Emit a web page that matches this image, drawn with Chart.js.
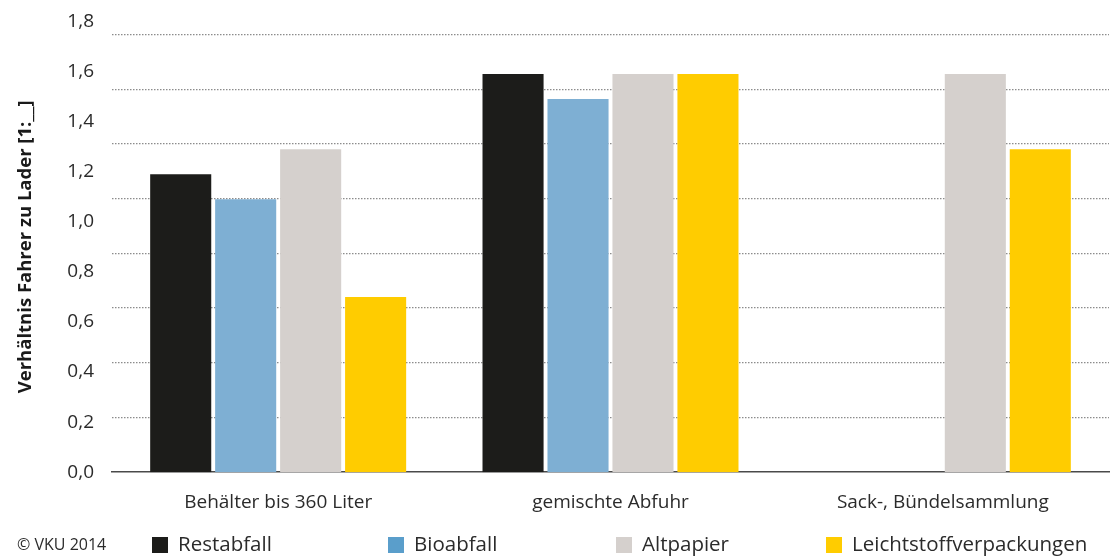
<!DOCTYPE html>
<html lang="de">
<head>
<meta charset="utf-8">
<title>Verhältnis Fahrer zu Lader</title>
<script src="https://cdn.jsdelivr.net/npm/chart.js@4/dist/chart.umd.min.js"></script>
<style>
  html, body { margin: 0; padding: 0; background: #ffffff; }
  #wrap { width: 1110px; height: 559px; }
</style>
</head>
<body>
<div id="wrap"><canvas id="c" width="1110" height="559"></canvas></div>
<script>
// Sammelsysteme (Kategorien)
const categories = ['Behälter bis 360 Liter', 'gemischte Abfuhr', 'Sack-, Bündelsammlung'];

// Verhältnis Fahrer zu Lader je Abfallart
const restabfall = [1.19, 1.59, null];
const bioabfall = [1.09, 1.49, null];
const altpapier = [1.29, 1.59, 1.59];
const leichtstoff = [0.70, 1.59, 1.29];

const seriesNames = ['Restabfall', 'Bioabfall', 'Altpapier', 'Leichtstoffverpackungen'];
const barColors = ['#1c1c1a', '#7eafd3', '#d5d0cd', '#ffcc00'];
const legendColors = ['#1c1c1a', '#5a9ecb', '#d5d0cd', '#ffcc00'];

// Achsenbeschriftung
const yTicks = [0, 0.2, 0.4, 0.6, 0.8, 1.0, 1.2, 1.4, 1.6, 1.8];
const gridTicks = [0.2, 0.4, 0.6, 0.8, 1.0, 1.2, 1.4, 1.6];
const yTitle = 'Verhältnis Fahrer zu Lader [1:__]';
const copyright = '© VKU 2014';

const FONT = '"Open Sans", "DejaVu Sans", sans-serif';
const TEXT = '#2b2b2b';

const fmt = v => v.toFixed(1).replace('.', ',');

// Legende unten mit festen Spalten und Copyright-Vermerk
const bottomLegend = {
  id: 'bottomLegend',
  afterDraw(chart) {
    const ctx = chart.ctx;
    const y = 545;
    ctx.save();
    ctx.textBaseline = 'middle';
    ctx.textAlign = 'left';
    ctx.fillStyle = TEXT;
    ctx.font = '16px ' + FONT;
    ctx.fillText(copyright, 17, y);
    const cols = [152, 388, 616, 826];
    ctx.font = '20.5px ' + FONT;
    chart.data.datasets.forEach((ds, i) => {
      ctx.fillStyle = legendColors[i];
      ctx.fillRect(cols[i], y - 8, 16, 16);
      ctx.fillStyle = TEXT;
      ctx.fillText(ds.label, cols[i] + 26, y);
    });
    ctx.restore();
  }
};

const datasets = [restabfall, bioabfall, altpapier, leichtstoff].map((vals, i) => ({
  label: seriesNames[i],
  data: vals,
  backgroundColor: barColors[i],
  borderWidth: 0,
  categoryPercentage: 0.782,
  barPercentage: 0.94
}));

new Chart(document.getElementById('c'), {
  type: 'bar',
  data: { labels: categories, datasets },
  options: {
    responsive: false,
    animation: false,
    layout: { padding: { top: 12, right: 1, bottom: 34, left: 0 } },
    plugins: {
      legend: { display: false },
      tooltip: { enabled: false }
    },
    scales: {
      x: {
        grid: { display: false },
        border: { display: true, color: '#4a4a4a', width: 1.5 },
        ticks: { color: TEXT, font: { family: FONT, size: 19 }, padding: 11 }
      },
      y: {
        min: 0,
        max: 1.8,
        position: 'left',
        afterBuildTicks(scale) { scale.ticks = yTicks.map(v => ({ value: v })); },
        afterFit(scale) { scale.width = 112; },
        grid: { display: false },
        border: { display: false },
        title: {
          display: true,
          text: yTitle,
          color: '#1a1a1a',
          font: { family: FONT, size: 18.5, weight: 'bold' },
          padding: { top: 15, bottom: 20 }
        },
        ticks: {
          color: TEXT,
          font: { family: FONT, size: 19 },
          padding: 10,
          callback: v => fmt(v)
        }
      },
      yGrid: {
        min: 0,
        max: 1.6478,
        position: 'left',
        afterBuildTicks(scale) { scale.ticks = gridTicks.map(v => ({ value: v })); },
        afterFit(scale) { scale.width = 0; },
        ticks: { display: false },
        border: { display: false, dash: [1.5, 1.5] },
        grid: {
          color: '#8c8c8c',
          lineWidth: 1.2,
          drawTicks: false
        }
      }
    }
  },
  plugins: [bottomLegend]
});
</script>
</body>
</html>
